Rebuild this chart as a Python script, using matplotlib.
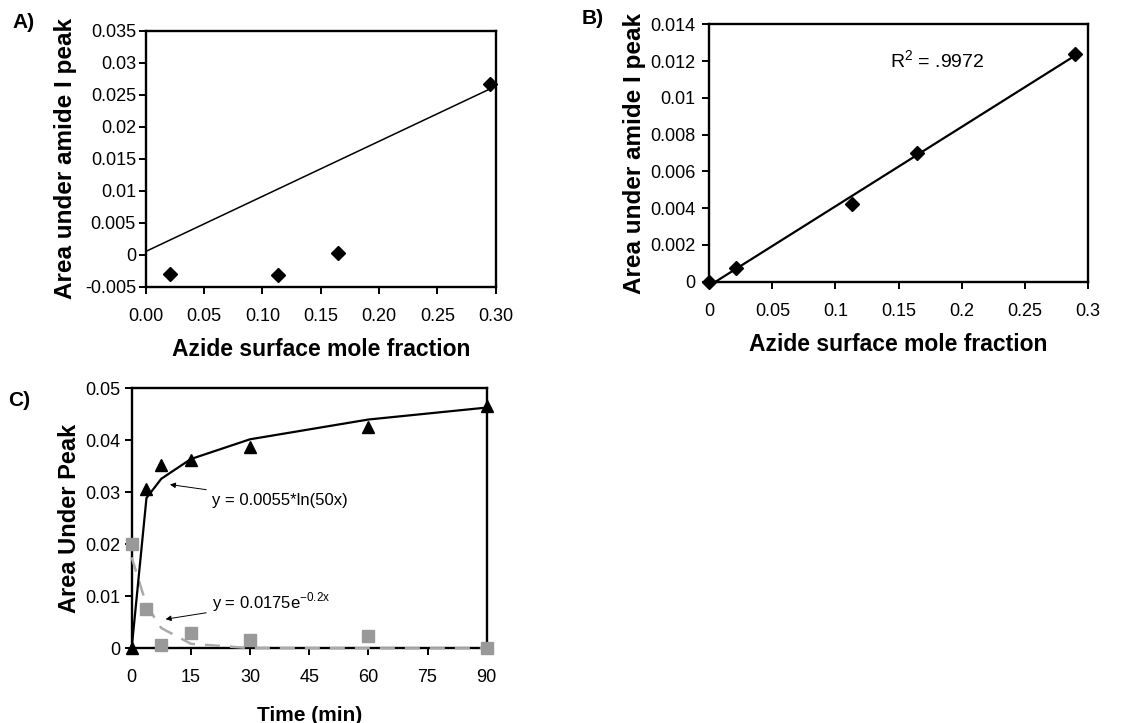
import matplotlib
matplotlib.use("Agg")
import matplotlib.pyplot as plt

plt.rcParams['font.family'] = ['Liberation Sans', 'DejaVu Sans']
plt.rcParams['mathtext.fontset'] = 'custom'
plt.rcParams['mathtext.rm'] = 'Liberation Sans'

# ---- Panel A data ----
a_x = [0.021, 0.113, 0.165, 0.295]
a_y = [-0.0030, -0.0032, 0.0002, 0.0266]
a_fit_x = [0.0, 0.295]
a_fit_y = [0.0005, 0.0259]
a_xticks = [0.00, 0.05, 0.10, 0.15, 0.20, 0.25, 0.30]
a_xticklabels = ["0.00", "0.05", "0.10", "0.15", "0.20", "0.25", "0.30"]
a_yticks = [-0.005, 0, 0.005, 0.01, 0.015, 0.02, 0.025, 0.03, 0.035]
a_yticklabels = ["-0.005", "0", "0.005", "0.01", "0.015", "0.02", "0.025", "0.03", "0.035"]

# ---- Panel B data ----
b_x = [0.0, 0.021, 0.113, 0.165, 0.290]
b_y = [0.0, 0.00075, 0.0042, 0.0070, 0.0124]
b_fit_x = [0.005, 0.290]
b_fit_y = [0.0, 0.0123]
b_xticks = [0, 0.05, 0.1, 0.15, 0.2, 0.25, 0.3]
b_xticklabels = ["0", "0.05", "0.1", "0.15", "0.2", "0.25", "0.3"]
b_yticks = [0, 0.002, 0.004, 0.006, 0.008, 0.01, 0.012, 0.014]
b_yticklabels = ["0", "0.002", "0.004", "0.006", "0.008", "0.01", "0.012", "0.014"]

# ---- Panel C data ----
c_time = [0, 3.75, 7.5, 15, 30, 60, 90]
c_tri = [0.0, 0.0306, 0.0353, 0.0362, 0.0387, 0.0425, 0.0466]
c_sq = [0.0200, 0.0075, 0.0006, 0.0030, 0.0016, 0.0024, 0.0]
c_logfit = [0.0, 0.0289, 0.0326, 0.0364, 0.0402, 0.0440, 0.0463]
c_expfit = [0.0175, 0.0083, 0.0039, 0.00087, 0.00004, 0.0, 0.0]
c_xticks = [0, 15, 30, 45, 60, 75, 90]
c_yticks = [0, 0.01, 0.02, 0.03, 0.04, 0.05]
c_yticklabels = ["0", "0.01", "0.02", "0.03", "0.04", "0.05"]

TICK_FS = 13
LABEL_FS = 16.5

fig = plt.figure(figsize=(11.42, 7.23), dpi=100)


def style(ax, ypad=6):
    for s in ax.spines.values():
        s.set_linewidth(1.7)
        s.set_color('black')
    ax.tick_params(axis='both', which='both', direction='out', length=5,
                   width=1.4, labelsize=TICK_FS, top=False, right=False)
    ax.tick_params(axis='x', pad=10)
    ax.tick_params(axis='y', pad=ypad)


# Panel A
axA = fig.add_axes([0.1276, 0.6035, 0.3065, 0.354])
axA.plot(a_fit_x, a_fit_y, color='black', lw=1.1)
axA.plot(a_x, a_y, linestyle='none', marker='D', color='black', markersize=7, clip_on=False)
axA.set_xlim(0, 0.30)
axA.set_ylim(-0.005, 0.035)
axA.set_xticks(a_xticks)
axA.set_xticklabels(a_xticklabels)
axA.set_yticks(a_yticks)
axA.set_yticklabels(a_yticklabels)
style(axA, ypad=2)
axA.set_xlabel("Azide surface mole fraction", fontsize=LABEL_FS, fontweight='bold', labelpad=10)
axA.set_ylabel("Area under amide I peak", fontsize=17.5, fontweight='bold', labelpad=6)

# Panel B
axB = fig.add_axes([0.6211, 0.6104, 0.3314, 0.356])
axB.plot(b_fit_x, b_fit_y, color='black', lw=1.6)
axB.plot(b_x, b_y, linestyle='none', marker='D', color='black', markersize=7, clip_on=False)
axB.set_xlim(0, 0.3)
axB.set_ylim(0, 0.014)
axB.set_xticks(b_xticks)
axB.set_xticklabels(b_xticklabels)
axB.set_yticks(b_yticks)
axB.set_yticklabels(b_yticklabels)
style(axB, ypad=5)
axB.text(0.143, 0.0120, "R$^{\\mathrm{2}}$ = .9972", fontsize=14, ha='left', va='center')
axB.set_xlabel("Azide surface mole fraction", fontsize=LABEL_FS, fontweight='bold', labelpad=10)
axB.set_ylabel("Area under amide I peak", fontsize=17.5, fontweight='bold', labelpad=3)

# Panel C
axC = fig.add_axes([0.1153, 0.1033, 0.3109, 0.3596])
axC.plot(c_time, c_expfit, color='#aaaaaa', lw=1.8, linestyle=(0, (6, 4)), zorder=3, clip_on=False)
axC.plot(c_time, c_logfit, color='black', lw=1.6, zorder=3, clip_on=False)
axC.plot(c_time, c_sq, linestyle='none', marker='s', color='#999999', markersize=8, zorder=4, clip_on=False)
axC.plot(c_time, c_tri, linestyle='none', marker='^', color='black', markersize=8, zorder=5, clip_on=False)
axC.set_xlim(0, 90)
axC.set_ylim(0, 0.05)
axC.set_xticks(c_xticks)
axC.set_yticks(c_yticks)
axC.set_yticklabels(c_yticklabels)
style(axC, ypad=3)
axC.annotate("y = 0.0055*ln(50x)", xy=(9.7, 0.0315), xytext=(20.3, 0.0285),
             fontsize=12, ha='left', va='center',
             arrowprops=dict(arrowstyle='-|>', color='black', lw=0.7,
                             mutation_scale=8, shrinkA=2, shrinkB=0))
axC.annotate("y = 0.0175e$^{\\mathrm{-0.2x}}$", xy=(8.6, 0.0056), xytext=(20.3, 0.0088),
             fontsize=12, ha='left', va='center',
             arrowprops=dict(arrowstyle='-|>', color='black', lw=0.7,
                             mutation_scale=8, shrinkA=2, shrinkB=0))
axC.set_xlabel("Time (min)", fontsize=15, fontweight='bold', labelpad=14)
axC.set_ylabel("Area Under Peak", fontsize=17, fontweight='bold', labelpad=3)

# Panel letters
fig.text(12 / 1142, 1 - 22 / 723, "A)", fontsize=15, fontweight='bold', ha='left', va='center')
fig.text(582 / 1142, 1 - 18 / 723, "B)", fontsize=15, fontweight='bold', ha='left', va='center')
fig.text(8 / 1142, 1 - 400 / 723, "C)", fontsize=15, fontweight='bold', ha='left', va='center')

fig.savefig("out.png", dpi=100)
